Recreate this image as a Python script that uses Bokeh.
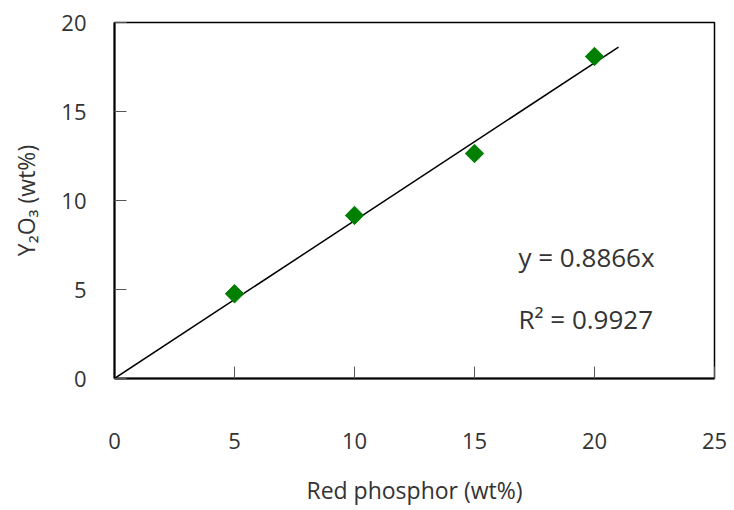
import math
from bokeh.plotting import figure
from bokeh.models import Range1d, FixedTicker, Label, ColumnDataSource
from bokeh.embed import file_html
from bokeh.resources import INLINE

# data
red_phosphor = [5, 10, 15, 20]
y2o3 = [4.76, 9.16, 12.64, 18.09]
slope = 0.8866
r2 = 0.9927
fit_x = [0, 21]
fit_y = [slope * v for v in fit_x]
x_ticks = [0, 5, 10, 15, 20, 25]
y_ticks = [0, 5, 10, 15, 20]

FONT = "Open Sans"
TXT = "#333333"

p = figure(width=734, height=510, output_backend="svg", toolbar_location=None,
           x_range=Range1d(0, 25), y_range=Range1d(0, 20),
           min_border_left=114, min_border_right=20, min_border_top=22, min_border_bottom=132)
p.background_fill_color = "white"
p.border_fill_color = "white"
p.grid.visible = False
p.outline_line_color = "black"
p.outline_line_width = 1.5

for ax, ticks in ((p.xaxis, x_ticks), (p.yaxis, y_ticks)):
    ax.ticker = FixedTicker(ticks=ticks)
    ax.minor_tick_line_color = None
    ax.major_tick_in = 12
    ax.major_tick_out = 0
    ax.major_tick_line_color = "#555555"
    ax.axis_line_color = "black"
    ax.axis_line_width = 2
    ax.major_label_text_font = FONT
    ax.major_label_text_font_size = "22px"
    ax.major_label_text_color = TXT
    ax.axis_label_text_font = FONT
    ax.axis_label_text_font_size = "23px"
    ax.axis_label_text_font_style = "normal"
    ax.axis_label_text_color = TXT

p.xaxis.axis_label = "Red phosphor (wt%)"
p.yaxis.axis_label = "Y₂O₃ (wt%)"
p.xaxis.major_label_standoff = 54
p.xaxis.axis_label_standoff = 22
p.yaxis.major_label_standoff = 28
p.yaxis.axis_label_standoff = 16

p.line(fit_x, fit_y, line_color="black", line_width=1.5)
src = ColumnDataSource(dict(x=red_phosphor, y=y2o3))
p.scatter("x", "y", source=src, marker="square", angle=math.pi / 4, size=13,
          fill_color="#007F00", line_color="#007F00")

p.add_layout(Label(x=16.83, y=6.85, text=f"y = {slope}x", text_font=FONT,
                   text_font_size="26px", text_color=TXT, text_baseline="middle"))
p.add_layout(Label(x=16.83, y=3.37, text=f"R² = {r2}", text_font=FONT,
                   text_font_size="26px", text_color=TXT, text_baseline="middle"))

open("out.html", "w").write(file_html(p, INLINE))
